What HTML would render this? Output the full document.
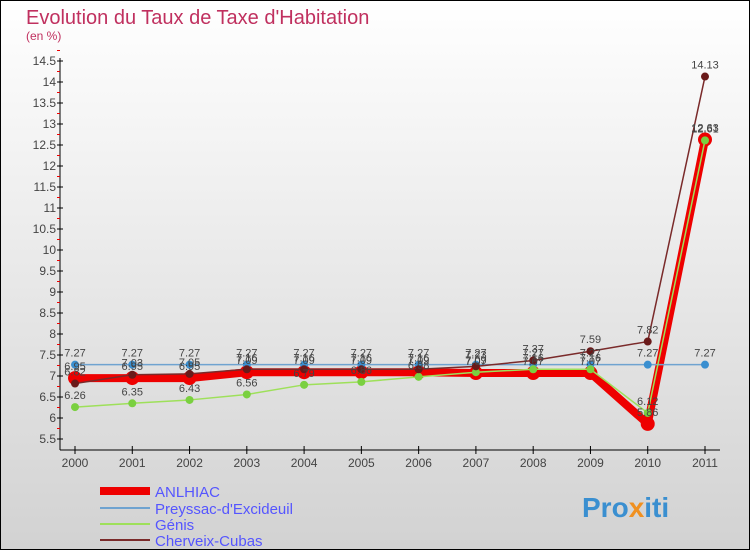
<!DOCTYPE html>
<html><head><meta charset="utf-8"><style>
body{margin:0}
svg text{font-family:"Liberation Sans",sans-serif}
</style></head><body>
<svg width="750" height="550" xmlns="http://www.w3.org/2000/svg">
<defs><linearGradient id="bg" x1="0" y1="0" x2="0" y2="1"><stop offset="0" stop-color="#ffffff"/><stop offset="1" stop-color="#d2d2d2"/></linearGradient></defs>
<rect x="0.5" y="0.5" width="749" height="549" fill="url(#bg)" stroke="#000"/>
<text x="26" y="24" font-size="20" fill="#c0305f">Evolution du Taux de Taxe d'Habitation</text>
<text x="26" y="40" font-size="12" fill="#c0305f">(en %)</text>
<g id="axes"></g>
<g id="series"></g>
<g id="labels" font-size="11" fill="#444"></g>
<g>
<line x1="100" y1="491" x2="150" y2="491" stroke="#e00" stroke-width="8"/>
<text x="155" y="497" font-size="15" fill="#55f">ANLHIAC</text>
<line x1="100" y1="508" x2="150" y2="508" stroke="#6fa3d0" stroke-width="2"/>
<text x="155" y="514" font-size="15" fill="#55f">Preyssac-d'Excideuil</text>
<line x1="100" y1="524" x2="150" y2="524" stroke="#9ee05a" stroke-width="2"/>
<text x="155" y="530" font-size="15" fill="#55f">Génis</text>
<line x1="100" y1="540" x2="150" y2="540" stroke="#7a2a2a" stroke-width="2"/>
<text x="155" y="546" font-size="15" fill="#55f">Cherveix-Cubas</text>
</g>
<text x="582" y="517" font-size="28" font-weight="bold" fill="#3a8fd0">Pro<tspan fill="#f09020">x</tspan>iti</text>
</svg>
<script>
const years=[2000,2001,2002,2003,2004,2005,2006,2007,2008,2009,2010,2011];
const yTicks=[5.5,6,6.5,7,7.5,8,8.5,9,9.5,10,10.5,11,11.5,12,12.5,13,13.5,14,14.5];
const anlhiac=[6.95,6.95,6.95,7.09,7.09,7.09,7.09,7.07,7.07,7.07,5.86,12.63];
const preyssac=[7.27,7.27,7.27,7.27,7.27,7.27,7.27,7.27,7.27,7.27,7.27,7.27];
const genis=[6.26,6.35,6.43,6.56,6.79,6.86,6.98,7.09,7.16,7.16,6.12,12.61];
const cherveix=[6.82,7.03,7.05,7.16,7.16,7.16,7.16,7.23,7.37,7.59,7.82,14.13];
const NS="http://www.w3.org/2000/svg";
const X=i=>75+i*(630/11);
const Y=v=>61+(14.5-v)*42;
function mk(tag,attrs,parent){const e=document.createElementNS(NS,tag);for(const k in attrs)e.setAttribute(k,attrs[k]);parent.appendChild(e);return e;}
const ax=document.getElementById('axes');
let l=mk('line',{x1:60,y1:58,x2:60,y2:450,stroke:'#000'},ax);


l=mk('line',{x1:60,y1:450,x2:720,y2:450,stroke:'#000'},ax);


yTicks.forEach(v=>{
 mk('line',{x1:57,y1:Y(v),x2:63,y2:Y(v),stroke:'#000'},ax);
 mk('line',{x1:57,y1:Y(v+0.25),x2:60,y2:Y(v+0.25),stroke:'#e00'},ax);
 const t=mk('text',{x:56,y:Y(v)+4,'font-size':12,'text-anchor':'end',fill:'#444'},ax);t.textContent=v;
 
 
});
years.forEach((yr,i)=>{
 mk('line',{x1:X(i),y1:446,x2:X(i),y2:454,stroke:'#000'},ax);
 const t=mk('text',{x:X(i),y:467,'font-size':12,'text-anchor':'middle',fill:'#444'},ax);t.textContent=yr;
 
 
});
const sg=document.getElementById('series'),lg=document.getElementById('labels');
function draw(data,color,w,r,name,pc){
 const p=mk('polyline',{points:data.map((v,i)=>X(i)+','+Y(v)).join(' '),fill:'none',stroke:color,'stroke-width':w,'stroke-linejoin':'round'},sg);
 
 
 data.forEach((v,i)=>{
  const c=mk('circle',{cx:X(i),cy:Y(v),r:r,fill:pc||color},sg);
  
  
  const t=mk('text',{x:X(i),y:Y(v)-8,'text-anchor':'middle'},lg);t.textContent=v;
  
  
 });
}
draw(anlhiac,'#ee0000',8,7,'anlhiac');
draw(preyssac,'#6fa3d0',1.5,4,'preyssac','#3a8fd0');
draw(genis,'#9ee05a',1.5,4,'genis','#7ad040');
draw(cherveix,'#7a2a2a',1.5,4,'cherveix','#6a1a1a');
</script>
</body></html>
